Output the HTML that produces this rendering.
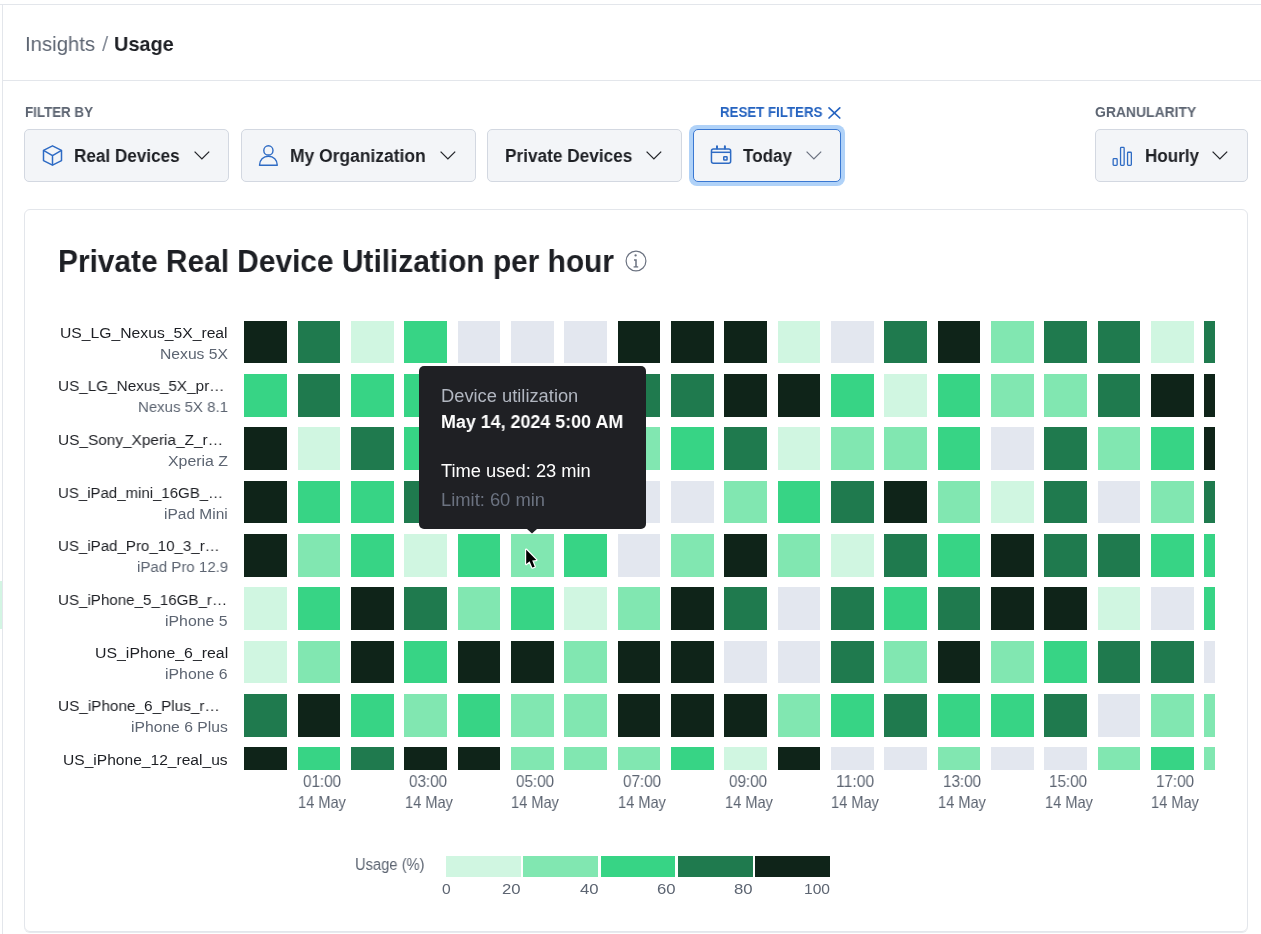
<!DOCTYPE html>
<html><head><meta charset="utf-8">
<style>
html,body{margin:0;padding:0;}
body{width:1261px;height:934px;overflow:hidden;position:relative;background:#fff;font-family:"Liberation Sans", sans-serif;}
.t{position:absolute;white-space:nowrap;line-height:1;will-change:transform;}
.abs{position:absolute;}
.btn{position:absolute;top:129px;height:51px;background:#f3f5f8;border:1px solid #d3d8e1;border-radius:5px;box-sizing:content-box;}
.grid{position:absolute;left:244.2px;top:320.9px;width:970.8px;height:449.1px;overflow:hidden;}
.c{position:absolute;width:42.7px;height:42.6px;}
svg{position:absolute;overflow:visible;}
</style></head><body>
<!-- page frame -->
<div class="abs" style="left:0;top:4px;width:1261px;height:1px;background:#e3e6eb"></div>
<div class="abs" style="left:2px;top:4px;width:1px;height:930px;background:#e3e6eb"></div>
<div class="abs" style="left:0;top:581px;width:2px;height:48px;background:#d3f5e3"></div>
<div class="abs" style="left:3px;top:80px;width:1258px;height:1px;background:#e3e6eb"></div>

<!-- buttons -->
<div class="btn" style="left:24px;width:203px;"></div>
<div class="btn" style="left:240.5px;width:233.5px;"></div>
<div class="btn" style="left:487.2px;width:192.6px;"></div>
<div class="abs" style="left:689.1px;top:125px;width:156.3px;height:60.6px;border-radius:8px;background:#b0d2f8"></div>
<div class="btn" style="left:692.8px;width:146.7px;border-color:#3a78d2;"></div>
<div class="btn" style="left:1094.5px;width:151.5px;"></div>

<!-- icons -->
<!-- cube -->
<svg style="left:42px;top:145px" width="21" height="21" viewBox="0 0 21 21" fill="none" stroke="#2e6bc4" stroke-width="1.5" stroke-linejoin="round">
 <path d="M10.5 0.8 L19.5 5.3 L19.5 15.6 L10.5 20.2 L1.5 15.6 L1.5 5.3 Z"/>
 <path d="M1.5 5.3 L10.5 10.6 L19.5 5.3 M10.5 10.6 L10.5 20.2"/>
</svg>
<!-- person -->
<svg style="left:258px;top:144.5px" width="21" height="22" viewBox="0 0 21 22" fill="none" stroke="#2e6bc4" stroke-width="1.4">
 <circle cx="10.4" cy="5.4" r="4.6"/>
 <path d="M1.5 20.3 C1.5 14.6 5.3 11.3 10.4 11.3 C15.5 11.3 19.3 14.6 19.3 20.3 Z" stroke-linejoin="round"/>
</svg>
<!-- calendar -->
<svg style="left:710px;top:145px" width="22" height="20" viewBox="0 0 22 20" fill="none" stroke="#2e6bc4" stroke-width="1.5">
 <rect x="1.45" y="3.95" width="19.2" height="14.3" rx="2"/>
 <path d="M1.45 7.3 H20.65"/>
 <path d="M7 1.3 V3.5 M14.9 1.3 V3.5" stroke-width="2" stroke-linecap="round"/>
 <rect x="13.75" y="11.75" width="3.3" height="3.2" rx="0.5"/>
</svg>
<!-- bars -->
<svg style="left:1112px;top:145.5px" width="21" height="21" viewBox="0 0 21 21" fill="none" stroke="#2e6bc4" stroke-width="1.3">
 <rect x="1.15" y="12.65" width="4.0" height="6.7" rx="0.8"/>
 <rect x="8.55" y="1.35" width="3.6" height="18.0" rx="0.8"/>
 <rect x="15.55" y="6.25" width="3.8" height="13.1" rx="0.8"/>
</svg>
<!-- chevrons -->
<svg style="left:193.5px;top:151px" width="16" height="9" viewBox="0 0 16 9" fill="none" stroke="#24262b" stroke-width="1.3"><path d="M0.6 0.6 L7.9 7.9 L15.2 0.6"/></svg>
<svg style="left:439.5px;top:151px" width="16" height="9" viewBox="0 0 16 9" fill="none" stroke="#24262b" stroke-width="1.3"><path d="M0.6 0.6 L7.9 7.9 L15.2 0.6"/></svg>
<svg style="left:646px;top:151px" width="16" height="9" viewBox="0 0 16 9" fill="none" stroke="#24262b" stroke-width="1.3"><path d="M0.6 0.6 L7.9 7.9 L15.2 0.6"/></svg>
<svg style="left:805.5px;top:151px" width="16" height="9" viewBox="0 0 16 9" fill="none" stroke="#6b7280" stroke-width="1.2"><path d="M0.6 0.6 L7.9 7.9 L15.2 0.6"/></svg>
<svg style="left:1212px;top:151px" width="16" height="9" viewBox="0 0 16 9" fill="none" stroke="#24262b" stroke-width="1.3"><path d="M0.6 0.6 L7.9 7.9 L15.2 0.6"/></svg>
<!-- reset X -->
<svg style="left:827.5px;top:107px" width="13" height="12" viewBox="0 0 13 12" fill="none" stroke="#2563c0" stroke-width="1.7" stroke-linecap="round"><path d="M1 0.9 L11.8 11 M11.8 0.9 L1 11"/></svg>

<!-- card -->
<div class="abs" style="left:24px;top:209px;width:1221.8px;height:720.5px;border:1px solid #e3e6eb;border-radius:6px;box-shadow:0 1px 0 #e8eaee;"></div>

<!-- info icon -->
<svg style="left:624.6px;top:250.4px" width="22" height="22" viewBox="0 0 22 22" fill="none" stroke="#6b7280">
 <circle cx="11" cy="11" r="9.9" stroke-width="1.2"/>
 <path d="M9.0 10.1 H11 V16.9" stroke-width="1.5"/>
 <path d="M8.6 16.9 H13.2" stroke-width="1.3"/>
 <circle cx="10.6" cy="5.4" r="1.15" fill="#6b7280" stroke="none"/>
</svg>

<!-- heatmap -->
<div class="grid">
<div class='c' style='left:0.00px;top:0.00px;background:#0f2419'></div>
<div class='c' style='left:53.34px;top:0.00px;background:#1f7a4e'></div>
<div class='c' style='left:106.68px;top:0.00px;background:#d0f6e1'></div>
<div class='c' style='left:160.02px;top:0.00px;background:#37d485'></div>
<div class='c' style='left:213.36px;top:0.00px;background:#e3e7ef'></div>
<div class='c' style='left:266.70px;top:0.00px;background:#e3e7ef'></div>
<div class='c' style='left:320.04px;top:0.00px;background:#e3e7ef'></div>
<div class='c' style='left:373.38px;top:0.00px;background:#0f2419'></div>
<div class='c' style='left:426.72px;top:0.00px;background:#0f2419'></div>
<div class='c' style='left:480.06px;top:0.00px;background:#0f2419'></div>
<div class='c' style='left:533.40px;top:0.00px;background:#d0f6e1'></div>
<div class='c' style='left:586.74px;top:0.00px;background:#e3e7ef'></div>
<div class='c' style='left:640.08px;top:0.00px;background:#1f7a4e'></div>
<div class='c' style='left:693.42px;top:0.00px;background:#0f2419'></div>
<div class='c' style='left:746.76px;top:0.00px;background:#81e7b1'></div>
<div class='c' style='left:800.10px;top:0.00px;background:#1f7a4e'></div>
<div class='c' style='left:853.44px;top:0.00px;background:#1f7a4e'></div>
<div class='c' style='left:906.78px;top:0.00px;background:#d0f6e1'></div>
<div class='c' style='left:960.12px;top:0.00px;background:#1f7a4e'></div>
<div class='c' style='left:0.00px;top:53.30px;background:#37d485'></div>
<div class='c' style='left:53.34px;top:53.30px;background:#1f7a4e'></div>
<div class='c' style='left:106.68px;top:53.30px;background:#37d485'></div>
<div class='c' style='left:160.02px;top:53.30px;background:#37d485'></div>
<div class='c' style='left:213.36px;top:53.30px;background:#37d485'></div>
<div class='c' style='left:266.70px;top:53.30px;background:#37d485'></div>
<div class='c' style='left:320.04px;top:53.30px;background:#37d485'></div>
<div class='c' style='left:373.38px;top:53.30px;background:#1f7a4e'></div>
<div class='c' style='left:426.72px;top:53.30px;background:#1f7a4e'></div>
<div class='c' style='left:480.06px;top:53.30px;background:#0f2419'></div>
<div class='c' style='left:533.40px;top:53.30px;background:#0f2419'></div>
<div class='c' style='left:586.74px;top:53.30px;background:#37d485'></div>
<div class='c' style='left:640.08px;top:53.30px;background:#d0f6e1'></div>
<div class='c' style='left:693.42px;top:53.30px;background:#37d485'></div>
<div class='c' style='left:746.76px;top:53.30px;background:#81e7b1'></div>
<div class='c' style='left:800.10px;top:53.30px;background:#81e7b1'></div>
<div class='c' style='left:853.44px;top:53.30px;background:#1f7a4e'></div>
<div class='c' style='left:906.78px;top:53.30px;background:#0f2419'></div>
<div class='c' style='left:960.12px;top:53.30px;background:#0f2419'></div>
<div class='c' style='left:0.00px;top:106.60px;background:#0f2419'></div>
<div class='c' style='left:53.34px;top:106.60px;background:#d0f6e1'></div>
<div class='c' style='left:106.68px;top:106.60px;background:#1f7a4e'></div>
<div class='c' style='left:160.02px;top:106.60px;background:#37d485'></div>
<div class='c' style='left:213.36px;top:106.60px;background:#37d485'></div>
<div class='c' style='left:266.70px;top:106.60px;background:#37d485'></div>
<div class='c' style='left:320.04px;top:106.60px;background:#37d485'></div>
<div class='c' style='left:373.38px;top:106.60px;background:#81e7b1'></div>
<div class='c' style='left:426.72px;top:106.60px;background:#37d485'></div>
<div class='c' style='left:480.06px;top:106.60px;background:#1f7a4e'></div>
<div class='c' style='left:533.40px;top:106.60px;background:#d0f6e1'></div>
<div class='c' style='left:586.74px;top:106.60px;background:#81e7b1'></div>
<div class='c' style='left:640.08px;top:106.60px;background:#81e7b1'></div>
<div class='c' style='left:693.42px;top:106.60px;background:#37d485'></div>
<div class='c' style='left:746.76px;top:106.60px;background:#e3e7ef'></div>
<div class='c' style='left:800.10px;top:106.60px;background:#1f7a4e'></div>
<div class='c' style='left:853.44px;top:106.60px;background:#81e7b1'></div>
<div class='c' style='left:906.78px;top:106.60px;background:#37d485'></div>
<div class='c' style='left:960.12px;top:106.60px;background:#0f2419'></div>
<div class='c' style='left:0.00px;top:159.90px;background:#0f2419'></div>
<div class='c' style='left:53.34px;top:159.90px;background:#37d485'></div>
<div class='c' style='left:106.68px;top:159.90px;background:#37d485'></div>
<div class='c' style='left:160.02px;top:159.90px;background:#1f7a4e'></div>
<div class='c' style='left:213.36px;top:159.90px;background:#e3e7ef'></div>
<div class='c' style='left:266.70px;top:159.90px;background:#e3e7ef'></div>
<div class='c' style='left:320.04px;top:159.90px;background:#e3e7ef'></div>
<div class='c' style='left:373.38px;top:159.90px;background:#e3e7ef'></div>
<div class='c' style='left:426.72px;top:159.90px;background:#e3e7ef'></div>
<div class='c' style='left:480.06px;top:159.90px;background:#81e7b1'></div>
<div class='c' style='left:533.40px;top:159.90px;background:#37d485'></div>
<div class='c' style='left:586.74px;top:159.90px;background:#1f7a4e'></div>
<div class='c' style='left:640.08px;top:159.90px;background:#0f2419'></div>
<div class='c' style='left:693.42px;top:159.90px;background:#81e7b1'></div>
<div class='c' style='left:746.76px;top:159.90px;background:#d0f6e1'></div>
<div class='c' style='left:800.10px;top:159.90px;background:#1f7a4e'></div>
<div class='c' style='left:853.44px;top:159.90px;background:#e3e7ef'></div>
<div class='c' style='left:906.78px;top:159.90px;background:#81e7b1'></div>
<div class='c' style='left:960.12px;top:159.90px;background:#1f7a4e'></div>
<div class='c' style='left:0.00px;top:213.20px;background:#0f2419'></div>
<div class='c' style='left:53.34px;top:213.20px;background:#81e7b1'></div>
<div class='c' style='left:106.68px;top:213.20px;background:#37d485'></div>
<div class='c' style='left:160.02px;top:213.20px;background:#d0f6e1'></div>
<div class='c' style='left:213.36px;top:213.20px;background:#37d485'></div>
<div class='c' style='left:266.70px;top:213.20px;background:#81e7b1'></div>
<div class='c' style='left:320.04px;top:213.20px;background:#37d485'></div>
<div class='c' style='left:373.38px;top:213.20px;background:#e3e7ef'></div>
<div class='c' style='left:426.72px;top:213.20px;background:#81e7b1'></div>
<div class='c' style='left:480.06px;top:213.20px;background:#0f2419'></div>
<div class='c' style='left:533.40px;top:213.20px;background:#81e7b1'></div>
<div class='c' style='left:586.74px;top:213.20px;background:#d0f6e1'></div>
<div class='c' style='left:640.08px;top:213.20px;background:#1f7a4e'></div>
<div class='c' style='left:693.42px;top:213.20px;background:#37d485'></div>
<div class='c' style='left:746.76px;top:213.20px;background:#0f2419'></div>
<div class='c' style='left:800.10px;top:213.20px;background:#1f7a4e'></div>
<div class='c' style='left:853.44px;top:213.20px;background:#1f7a4e'></div>
<div class='c' style='left:906.78px;top:213.20px;background:#37d485'></div>
<div class='c' style='left:960.12px;top:213.20px;background:#37d485'></div>
<div class='c' style='left:0.00px;top:266.50px;background:#d0f6e1'></div>
<div class='c' style='left:53.34px;top:266.50px;background:#37d485'></div>
<div class='c' style='left:106.68px;top:266.50px;background:#0f2419'></div>
<div class='c' style='left:160.02px;top:266.50px;background:#1f7a4e'></div>
<div class='c' style='left:213.36px;top:266.50px;background:#81e7b1'></div>
<div class='c' style='left:266.70px;top:266.50px;background:#37d485'></div>
<div class='c' style='left:320.04px;top:266.50px;background:#d0f6e1'></div>
<div class='c' style='left:373.38px;top:266.50px;background:#81e7b1'></div>
<div class='c' style='left:426.72px;top:266.50px;background:#0f2419'></div>
<div class='c' style='left:480.06px;top:266.50px;background:#1f7a4e'></div>
<div class='c' style='left:533.40px;top:266.50px;background:#e3e7ef'></div>
<div class='c' style='left:586.74px;top:266.50px;background:#1f7a4e'></div>
<div class='c' style='left:640.08px;top:266.50px;background:#37d485'></div>
<div class='c' style='left:693.42px;top:266.50px;background:#1f7a4e'></div>
<div class='c' style='left:746.76px;top:266.50px;background:#0f2419'></div>
<div class='c' style='left:800.10px;top:266.50px;background:#0f2419'></div>
<div class='c' style='left:853.44px;top:266.50px;background:#d0f6e1'></div>
<div class='c' style='left:906.78px;top:266.50px;background:#e3e7ef'></div>
<div class='c' style='left:960.12px;top:266.50px;background:#37d485'></div>
<div class='c' style='left:0.00px;top:319.80px;background:#d0f6e1'></div>
<div class='c' style='left:53.34px;top:319.80px;background:#81e7b1'></div>
<div class='c' style='left:106.68px;top:319.80px;background:#0f2419'></div>
<div class='c' style='left:160.02px;top:319.80px;background:#37d485'></div>
<div class='c' style='left:213.36px;top:319.80px;background:#0f2419'></div>
<div class='c' style='left:266.70px;top:319.80px;background:#0f2419'></div>
<div class='c' style='left:320.04px;top:319.80px;background:#81e7b1'></div>
<div class='c' style='left:373.38px;top:319.80px;background:#0f2419'></div>
<div class='c' style='left:426.72px;top:319.80px;background:#0f2419'></div>
<div class='c' style='left:480.06px;top:319.80px;background:#e3e7ef'></div>
<div class='c' style='left:533.40px;top:319.80px;background:#e3e7ef'></div>
<div class='c' style='left:586.74px;top:319.80px;background:#1f7a4e'></div>
<div class='c' style='left:640.08px;top:319.80px;background:#81e7b1'></div>
<div class='c' style='left:693.42px;top:319.80px;background:#0f2419'></div>
<div class='c' style='left:746.76px;top:319.80px;background:#81e7b1'></div>
<div class='c' style='left:800.10px;top:319.80px;background:#37d485'></div>
<div class='c' style='left:853.44px;top:319.80px;background:#1f7a4e'></div>
<div class='c' style='left:906.78px;top:319.80px;background:#1f7a4e'></div>
<div class='c' style='left:960.12px;top:319.80px;background:#e3e7ef'></div>
<div class='c' style='left:0.00px;top:373.10px;background:#1f7a4e'></div>
<div class='c' style='left:53.34px;top:373.10px;background:#0f2419'></div>
<div class='c' style='left:106.68px;top:373.10px;background:#37d485'></div>
<div class='c' style='left:160.02px;top:373.10px;background:#81e7b1'></div>
<div class='c' style='left:213.36px;top:373.10px;background:#37d485'></div>
<div class='c' style='left:266.70px;top:373.10px;background:#81e7b1'></div>
<div class='c' style='left:320.04px;top:373.10px;background:#81e7b1'></div>
<div class='c' style='left:373.38px;top:373.10px;background:#0f2419'></div>
<div class='c' style='left:426.72px;top:373.10px;background:#0f2419'></div>
<div class='c' style='left:480.06px;top:373.10px;background:#0f2419'></div>
<div class='c' style='left:533.40px;top:373.10px;background:#81e7b1'></div>
<div class='c' style='left:586.74px;top:373.10px;background:#37d485'></div>
<div class='c' style='left:640.08px;top:373.10px;background:#1f7a4e'></div>
<div class='c' style='left:693.42px;top:373.10px;background:#37d485'></div>
<div class='c' style='left:746.76px;top:373.10px;background:#37d485'></div>
<div class='c' style='left:800.10px;top:373.10px;background:#1f7a4e'></div>
<div class='c' style='left:853.44px;top:373.10px;background:#e3e7ef'></div>
<div class='c' style='left:906.78px;top:373.10px;background:#81e7b1'></div>
<div class='c' style='left:960.12px;top:373.10px;background:#81e7b1'></div>
<div class='c' style='left:0.00px;top:426.40px;background:#0f2419'></div>
<div class='c' style='left:53.34px;top:426.40px;background:#37d485'></div>
<div class='c' style='left:106.68px;top:426.40px;background:#1f7a4e'></div>
<div class='c' style='left:160.02px;top:426.40px;background:#0f2419'></div>
<div class='c' style='left:213.36px;top:426.40px;background:#0f2419'></div>
<div class='c' style='left:266.70px;top:426.40px;background:#81e7b1'></div>
<div class='c' style='left:320.04px;top:426.40px;background:#81e7b1'></div>
<div class='c' style='left:373.38px;top:426.40px;background:#81e7b1'></div>
<div class='c' style='left:426.72px;top:426.40px;background:#37d485'></div>
<div class='c' style='left:480.06px;top:426.40px;background:#d0f6e1'></div>
<div class='c' style='left:533.40px;top:426.40px;background:#0f2419'></div>
<div class='c' style='left:586.74px;top:426.40px;background:#e3e7ef'></div>
<div class='c' style='left:640.08px;top:426.40px;background:#e3e7ef'></div>
<div class='c' style='left:693.42px;top:426.40px;background:#81e7b1'></div>
<div class='c' style='left:746.76px;top:426.40px;background:#e3e7ef'></div>
<div class='c' style='left:800.10px;top:426.40px;background:#e3e7ef'></div>
<div class='c' style='left:853.44px;top:426.40px;background:#81e7b1'></div>
<div class='c' style='left:906.78px;top:426.40px;background:#37d485'></div>
<div class='c' style='left:960.12px;top:426.40px;background:#81e7b1'></div>
</div>

<div style='position:absolute;left:446.0px;top:855.7px;width:74.9px;height:21.3px;background:#d0f6e1'></div>
<div style='position:absolute;left:523.3px;top:855.7px;width:74.9px;height:21.3px;background:#81e7b1'></div>
<div style='position:absolute;left:600.6px;top:855.7px;width:74.9px;height:21.3px;background:#37d485'></div>
<div style='position:absolute;left:677.9px;top:855.7px;width:74.9px;height:21.3px;background:#1f7a4e'></div>
<div style='position:absolute;left:755.2px;top:855.7px;width:74.9px;height:21.3px;background:#0f2419'></div>

<!-- tooltip -->
<div class="abs" style="left:419px;top:366.2px;width:226.5px;height:162.5px;background:#1f2024;border-radius:5px;"></div>
<svg style="left:527px;top:528.5px" width="10" height="5" viewBox="0 0 10 5"><path d="M0 0 L5 4.5 L10 0 Z" fill="#1f2024"/></svg>

<div class='t' style='left:25.00px;top:32.62px;font-size:21px;font-weight:400;color:#5d6572;transform:scaleX(0.9699);transform-origin:0 0;'>Insights</div>
<div class='t' style='left:101.50px;top:32.62px;font-size:21px;font-weight:400;color:#8a919c;transform:scaleX(1.0781);transform-origin:0 0;'>/</div>
<div class='t' style='left:113.90px;top:32.62px;font-size:21px;font-weight:700;color:#1d1f24;transform:scaleX(0.9487);transform-origin:0 0;'>Usage</div>
<div class='t' style='left:24.50px;top:105.15px;font-size:14px;font-weight:700;color:#5d6572;transform:scaleX(0.9538);transform-origin:0 0;'>FILTER BY</div>
<div class='t' style='left:719.80px;top:105.15px;font-size:14px;font-weight:700;color:#2563c0;transform:scaleX(0.9494);transform-origin:0 0;'>RESET FILTERS</div>
<div class='t' style='left:1094.70px;top:105.35px;font-size:14px;font-weight:700;color:#5d6572;transform:scaleX(0.9942);transform-origin:0 0;'>GRANULARITY</div>
<div class='t' style='left:74.30px;top:146.66px;font-size:18px;font-weight:700;color:#1d1f24;transform:scaleX(0.9516);transform-origin:0 0;'>Real Devices</div>
<div class='t' style='left:290.20px;top:146.66px;font-size:18px;font-weight:700;color:#1d1f24;transform:scaleX(0.9692);transform-origin:0 0;'>My Organization</div>
<div class='t' style='left:504.90px;top:146.66px;font-size:18px;font-weight:700;color:#1d1f24;transform:scaleX(0.9572);transform-origin:0 0;'>Private Devices</div>
<div class='t' style='left:743.00px;top:146.66px;font-size:18px;font-weight:700;color:#1d1f24;transform:scaleX(0.9464);transform-origin:0 0;'>Today</div>
<div class='t' style='left:1144.60px;top:146.66px;font-size:18px;font-weight:700;color:#1d1f24;transform:scaleX(0.9471);transform-origin:0 0;'>Hourly</div>
<div class='t' style='left:58.30px;top:245.56px;font-size:31px;font-weight:700;color:#1d1f24;transform:scaleX(0.9634);transform-origin:0 0;'>Private Real Device Utilization per hour</div>
<div class='t' style='left:60.20px;top:324.88px;font-size:15.5px;font-weight:400;color:#1d1f24;transform:scaleX(1.0131);transform-origin:0 0;'>US_LG_Nexus_5X_real</div>
<div class='t' style='left:159.80px;top:345.98px;font-size:15.5px;font-weight:400;color:#5d6572;transform:scaleX(1.0119);transform-origin:0 0;'>Nexus 5X</div>
<div class='t' style='left:58.30px;top:378.21px;font-size:15.5px;font-weight:400;color:#1d1f24;transform:scaleX(0.9859);transform-origin:0 0;'>US_LG_Nexus_5X_pr…</div>
<div class='t' style='left:137.80px;top:399.31px;font-size:15.5px;font-weight:400;color:#5d6572;transform:scaleX(0.9671);transform-origin:0 0;'>Nexus 5X 8.1</div>
<div class='t' style='left:58.30px;top:431.54px;font-size:15.5px;font-weight:400;color:#1d1f24;transform:scaleX(0.9929);transform-origin:0 0;'>US_Sony_Xperia_Z_r…</div>
<div class='t' style='left:167.80px;top:452.64px;font-size:15.5px;font-weight:400;color:#5d6572;transform:scaleX(1.0240);transform-origin:0 0;'>Xperia Z</div>
<div class='t' style='left:58.30px;top:484.87px;font-size:15.5px;font-weight:400;color:#1d1f24;transform:scaleX(0.9678);transform-origin:0 0;'>US_iPad_mini_16GB_…</div>
<div class='t' style='left:164.20px;top:505.97px;font-size:15.5px;font-weight:400;color:#5d6572;'>iPad Mini</div>
<div class='t' style='left:58.30px;top:538.20px;font-size:15.5px;font-weight:400;color:#1d1f24;transform:scaleX(0.9723);transform-origin:0 0;'>US_iPad_Pro_10_3_r…</div>
<div class='t' style='left:136.60px;top:559.30px;font-size:15.5px;font-weight:400;color:#5d6572;transform:scaleX(0.9709);transform-origin:0 0;'>iPad Pro 12.9</div>
<div class='t' style='left:58.30px;top:591.53px;font-size:15.5px;font-weight:400;color:#1d1f24;transform:scaleX(0.9763);transform-origin:0 0;'>US_iPhone_5_16GB_r…</div>
<div class='t' style='left:165.30px;top:612.63px;font-size:15.5px;font-weight:400;color:#5d6572;transform:scaleX(1.0212);transform-origin:0 0;'>iPhone 5</div>
<div class='t' style='left:94.60px;top:644.86px;font-size:15.5px;font-weight:400;color:#1d1f24;transform:scaleX(1.0236);transform-origin:0 0;'>US_iPhone_6_real</div>
<div class='t' style='left:165.30px;top:665.96px;font-size:15.5px;font-weight:400;color:#5d6572;transform:scaleX(1.0212);transform-origin:0 0;'>iPhone 6</div>
<div class='t' style='left:58.30px;top:698.19px;font-size:15.5px;font-weight:400;color:#1d1f24;transform:scaleX(0.9883);transform-origin:0 0;'>US_iPhone_6_Plus_r…</div>
<div class='t' style='left:131.00px;top:719.29px;font-size:15.5px;font-weight:400;color:#5d6572;transform:scaleX(1.0120);transform-origin:0 0;'>iPhone 6 Plus</div>
<div class='t' style='left:63.20px;top:751.52px;font-size:15.5px;font-weight:400;color:#1d1f24;transform:scaleX(1.0053);transform-origin:0 0;'>US_iPhone_12_real_us</div>
<div class='t' style='left:302.75px;top:773.23px;font-size:16.5px;font-weight:400;color:#5d6572;transform:scaleX(0.9226);transform-origin:0 0;'>01:00</div>
<div class='t' style='left:297.85px;top:794.03px;font-size:16.5px;font-weight:400;color:#5d6572;transform:scaleX(0.8852);transform-origin:0 0;'>14 May</div>
<div class='t' style='left:409.42px;top:773.23px;font-size:16.5px;font-weight:400;color:#5d6572;transform:scaleX(0.9226);transform-origin:0 0;'>03:00</div>
<div class='t' style='left:404.52px;top:794.03px;font-size:16.5px;font-weight:400;color:#5d6572;transform:scaleX(0.8852);transform-origin:0 0;'>14 May</div>
<div class='t' style='left:516.09px;top:773.23px;font-size:16.5px;font-weight:400;color:#5d6572;transform:scaleX(0.9226);transform-origin:0 0;'>05:00</div>
<div class='t' style='left:511.19px;top:794.03px;font-size:16.5px;font-weight:400;color:#5d6572;transform:scaleX(0.8852);transform-origin:0 0;'>14 May</div>
<div class='t' style='left:622.76px;top:773.23px;font-size:16.5px;font-weight:400;color:#5d6572;transform:scaleX(0.9226);transform-origin:0 0;'>07:00</div>
<div class='t' style='left:617.86px;top:794.03px;font-size:16.5px;font-weight:400;color:#5d6572;transform:scaleX(0.8852);transform-origin:0 0;'>14 May</div>
<div class='t' style='left:729.43px;top:773.23px;font-size:16.5px;font-weight:400;color:#5d6572;transform:scaleX(0.9226);transform-origin:0 0;'>09:00</div>
<div class='t' style='left:724.53px;top:794.03px;font-size:16.5px;font-weight:400;color:#5d6572;transform:scaleX(0.8852);transform-origin:0 0;'>14 May</div>
<div class='t' style='left:836.10px;top:773.23px;font-size:16.5px;font-weight:400;color:#5d6572;transform:scaleX(0.9506);transform-origin:0 0;'>11:00</div>
<div class='t' style='left:831.20px;top:794.03px;font-size:16.5px;font-weight:400;color:#5d6572;transform:scaleX(0.8852);transform-origin:0 0;'>14 May</div>
<div class='t' style='left:942.77px;top:773.23px;font-size:16.5px;font-weight:400;color:#5d6572;transform:scaleX(0.9226);transform-origin:0 0;'>13:00</div>
<div class='t' style='left:937.87px;top:794.03px;font-size:16.5px;font-weight:400;color:#5d6572;transform:scaleX(0.8852);transform-origin:0 0;'>14 May</div>
<div class='t' style='left:1049.44px;top:773.23px;font-size:16.5px;font-weight:400;color:#5d6572;transform:scaleX(0.9226);transform-origin:0 0;'>15:00</div>
<div class='t' style='left:1044.54px;top:794.03px;font-size:16.5px;font-weight:400;color:#5d6572;transform:scaleX(0.8852);transform-origin:0 0;'>14 May</div>
<div class='t' style='left:1156.11px;top:773.23px;font-size:16.5px;font-weight:400;color:#5d6572;transform:scaleX(0.9226);transform-origin:0 0;'>17:00</div>
<div class='t' style='left:1151.21px;top:794.03px;font-size:16.5px;font-weight:400;color:#5d6572;transform:scaleX(0.8852);transform-origin:0 0;'>14 May</div>
<div class='t' style='left:354.90px;top:856.66px;font-size:16px;font-weight:400;color:#5d6572;transform:scaleX(0.9196);transform-origin:0 0;'>Usage (%)</div>
<div class='t' style='left:441.65px;top:881.63px;font-size:14.5px;font-weight:400;color:#5d6572;transform:scaleX(1.0770);transform-origin:0 0;'>0</div>
<div class='t' style='left:502.30px;top:881.63px;font-size:14.5px;font-weight:400;color:#5d6572;transform:scaleX(1.1524);transform-origin:0 0;'>20</div>
<div class='t' style='left:579.60px;top:881.63px;font-size:14.5px;font-weight:400;color:#5d6572;transform:scaleX(1.1524);transform-origin:0 0;'>40</div>
<div class='t' style='left:656.90px;top:881.63px;font-size:14.5px;font-weight:400;color:#5d6572;transform:scaleX(1.1524);transform-origin:0 0;'>60</div>
<div class='t' style='left:734.20px;top:881.63px;font-size:14.5px;font-weight:400;color:#5d6572;transform:scaleX(1.1524);transform-origin:0 0;'>80</div>
<div class='t' style='left:804.10px;top:881.63px;font-size:14.5px;font-weight:400;color:#5d6572;transform:scaleX(1.0742);transform-origin:0 0;'>100</div>
<div class='t' style='left:441.20px;top:387.59px;font-size:17.5px;font-weight:400;color:#b1b6c0;transform:scaleX(1.0456);transform-origin:0 0;'>Device utilization</div>
<div class='t' style='left:441.20px;top:413.36px;font-size:18px;font-weight:700;color:#ffffff;transform:scaleX(0.9933);transform-origin:0 0;'>May 14, 2024 5:00 AM</div>
<div class='t' style='left:440.60px;top:462.06px;font-size:18px;font-weight:400;color:#ffffff;transform:scaleX(1.0162);transform-origin:0 0;'>Time used: 23 min</div>
<div class='t' style='left:440.60px;top:491.16px;font-size:18px;font-weight:400;color:#6b7280;transform:scaleX(1.0191);transform-origin:0 0;'>Limit: 60 min</div>

<!-- cursor -->
<svg style="left:525px;top:546px" width="16" height="26" viewBox="0 0 16 26">
 <path d="M1.2 3.7 L1.2 18.0 L4.6 15.2 L7.3 21.6 L9.7 20.7 L7.2 14.5 L11.3 14.0 Z" fill="#fff" stroke="#fff" stroke-width="2.4" stroke-linejoin="round"/>
 <path d="M1.2 3.7 L1.2 18.0 L4.6 15.2 L7.3 21.6 L9.7 20.7 L7.2 14.5 L11.3 14.0 Z" fill="#000"/>
</svg>

</body></html>
